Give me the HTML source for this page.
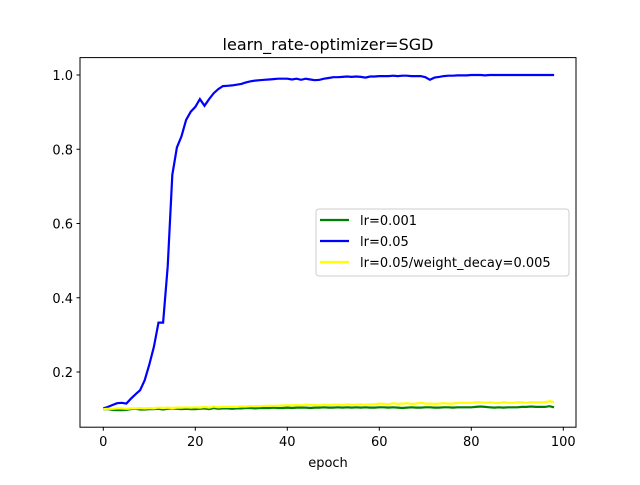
<!DOCTYPE html>
<html><head><meta charset="utf-8"><style>
body{margin:0;background:#fff}
svg text{font-family:"DejaVu Sans","Liberation Sans",sans-serif;fill:#000}
</style></head><body>
<svg id="c" width="640" height="480" xmlns="http://www.w3.org/2000/svg">
<rect x="0" y="0" width="640" height="480" fill="#fff"/>
<text x="328" y="50" font-size="16" text-anchor="middle">learn_rate-optimizer=SGD</text>
<g id="plot"></g>
<rect x="80" y="57.6" width="496" height="369.6" fill="none" stroke="#000" stroke-width="1"/>
<g id="ticks"></g>
<text x="328" y="467" font-size="13" text-anchor="middle">epoch</text>
<g>
<rect x="316" y="209" width="253" height="67" rx="3" fill="#fff" fill-opacity="0.8" stroke="#ccc"/>
<g><line x1="320" y1="220" x2="349" y2="220" stroke="#008000" stroke-width="2.2"/><text x="360" y="225" font-size="13">lr=0.001</text></g>
<g><line x1="320" y1="241" x2="349" y2="241" stroke="#0000ff" stroke-width="2.2"/><text x="360" y="246" font-size="13">lr=0.05</text></g>
<g><line x1="320" y1="262" x2="349" y2="262" stroke="#ffff00" stroke-width="2.2"/><text x="360" y="267" font-size="13">lr=0.05/weight_decay=0.005</text></g>
</g>
</svg>
<script>
const xTicks=[0,20,40,60,80,100];
const yTicks=[0.2,0.4,0.6,0.8,1.0];
const blue=[0.102,0.106,0.111,0.116,0.117,0.115,0.128,0.140,0.151,0.178,0.220,0.268,0.333,0.333,0.484,0.731,0.805,0.835,0.879,0.901,0.914,0.935,0.917,0.935,0.951,0.962,0.970,0.971,0.972,0.974,0.976,0.980,0.983,0.985,0.986,0.987,0.988,0.989,0.990,0.990,0.990,0.988,0.990,0.987,0.990,0.988,0.986,0.987,0.990,0.992,0.994,0.994,0.995,0.996,0.995,0.996,0.995,0.993,0.996,0.996,0.997,0.997,0.997,0.998,0.997,0.998,0.998,0.997,0.997,0.997,0.994,0.987,0.993,0.995,0.997,0.998,0.998,0.999,0.999,0.999,1.0,1.0,1.0,0.999,1.0,1.0,1.0,1.0,1.0,1.0,1.0,1.0,1.0,1.0,1.0,1.0,1.0,1.0,1.0];
const green=[0.100,0.100,0.098,0.097,0.097,0.098,0.100,0.101,0.099,0.099,0.100,0.100,0.101,0.099,0.101,0.102,0.101,0.100,0.101,0.100,0.100,0.101,0.102,0.100,0.103,0.101,0.102,0.102,0.101,0.102,0.102,0.103,0.103,0.102,0.103,0.103,0.103,0.104,0.103,0.103,0.104,0.103,0.104,0.104,0.104,0.103,0.104,0.104,0.105,0.104,0.104,0.105,0.104,0.105,0.104,0.105,0.104,0.105,0.104,0.104,0.105,0.105,0.104,0.105,0.104,0.103,0.104,0.105,0.104,0.104,0.105,0.105,0.104,0.104,0.105,0.105,0.104,0.105,0.105,0.105,0.105,0.106,0.107,0.106,0.105,0.104,0.105,0.104,0.105,0.105,0.105,0.106,0.106,0.107,0.106,0.106,0.106,0.108,0.105];
const yellow=[0.100,0.101,0.101,0.102,0.102,0.101,0.102,0.102,0.103,0.102,0.103,0.102,0.104,0.103,0.104,0.103,0.104,0.104,0.105,0.104,0.105,0.104,0.106,0.104,0.107,0.105,0.106,0.106,0.106,0.106,0.107,0.107,0.108,0.108,0.108,0.109,0.109,0.109,0.109,0.110,0.110,0.110,0.111,0.110,0.112,0.111,0.111,0.110,0.112,0.111,0.112,0.112,0.111,0.113,0.112,0.112,0.113,0.112,0.113,0.113,0.115,0.114,0.113,0.116,0.114,0.115,0.116,0.114,0.115,0.117,0.115,0.115,0.114,0.115,0.116,0.115,0.115,0.117,0.117,0.117,0.117,0.118,0.118,0.117,0.118,0.117,0.116,0.119,0.117,0.117,0.118,0.118,0.117,0.119,0.118,0.118,0.119,0.121,0.119];
const NS='http://www.w3.org/2000/svg';
const xs=v=>103.3+4.6*v;
const ys=v=>75+(1-v)*371.25;
const plot=document.getElementById('plot'),ticks=document.getElementById('ticks');
function line(data,color,name){
  const p=document.createElementNS(NS,'polyline');
  p.setAttribute('points',data.map((v,i)=>xs(i).toFixed(1)+','+ys(v).toFixed(1)).join(' '));
  p.setAttribute('fill','none');p.setAttribute('stroke',color);p.setAttribute('stroke-width','2.2');
  
  
  plot.appendChild(p);
}
line(green,'#008000','series-lr-0.001');
line(blue,'#0000ff','series-lr-0.05');
line(yellow,'#ffff00','series-lr-0.05-weight-decay');
xTicks.forEach(t=>{
  const l=document.createElementNS(NS,'line');
  l.setAttribute('x1',xs(t));l.setAttribute('x2',xs(t));l.setAttribute('y1',427.2);l.setAttribute('y2',430.7);l.setAttribute('stroke','#000');
  
  
  ticks.appendChild(l);
  const tx=document.createElementNS(NS,'text');
  tx.setAttribute('x',xs(t));tx.setAttribute('y',446);tx.setAttribute('font-size','13');tx.setAttribute('text-anchor','middle');
  tx.textContent=t;
  
  
  ticks.appendChild(tx);
});
yTicks.forEach(t=>{
  const l=document.createElementNS(NS,'line');
  l.setAttribute('x1',76.5);l.setAttribute('x2',80);l.setAttribute('y1',ys(t));l.setAttribute('y2',ys(t));l.setAttribute('stroke','#000');
  
  
  ticks.appendChild(l);
  const tx=document.createElementNS(NS,'text');
  tx.setAttribute('x',73);tx.setAttribute('y',ys(t)+5);tx.setAttribute('font-size','13');tx.setAttribute('text-anchor','end');
  tx.textContent=t.toFixed(1);
  
  
  ticks.appendChild(tx);
});
</script>
</body></html>
